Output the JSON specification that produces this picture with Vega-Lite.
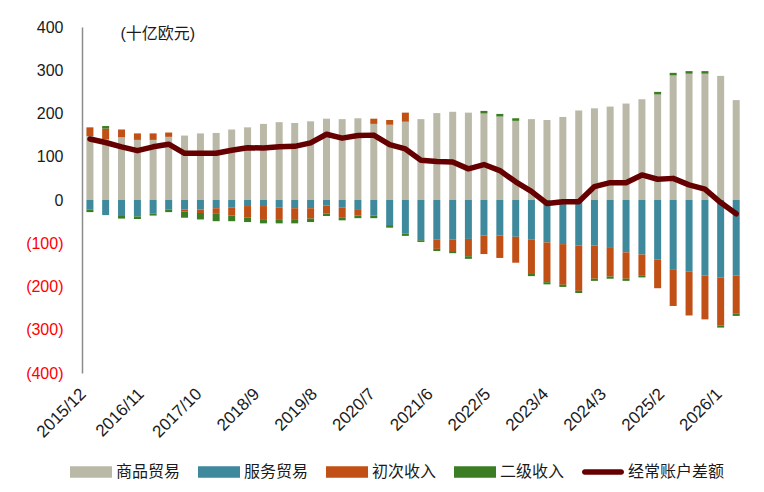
{
  "$schema": "https://vega.github.io/schema/vega-lite/v6.json",
  "width": 668,
  "height": 346,
  "autosize": {"type": "none"},
  "padding": {"left": 82, "top": 27, "right": 14, "bottom": 119},
  "background": "white",
  "data": {
    "values": [
      {"d": "2015/12/01", "商品贸易": 148, "服务贸易": -22, "初次收入": 20, "二级收入": -6, "经常账户差额": 141},
      {"d": "2016/03/01", "商品贸易": 140, "服务贸易": -35, "初次收入": 25, "二级收入": 6, "经常账户差额": 133},
      {"d": "2016/06/01", "商品贸易": 145, "服务贸易": -37, "初次收入": 18, "二级收入": -6, "经常账户差额": 123},
      {"d": "2016/09/01", "商品贸易": 139, "服务贸易": -38, "初次收入": 15, "二级收入": -6, "经常账户差额": 114},
      {"d": "2016/12/01", "商品贸易": 139, "服务贸易": -31, "初次收入": 15, "二级收入": -5, "经常账户差额": 123},
      {"d": "2017/03/01", "商品贸易": 146, "服务贸易": -22, "初次收入": 10, "二级收入": -6, "经常账户差额": 129},
      {"d": "2017/06/01", "商品贸易": 149, "服务贸易": -22, "初次收入": -5, "二级收入": -14, "经常账户差额": 108},
      {"d": "2017/09/01", "商品贸易": 154, "服务贸易": -22, "初次收入": -8, "二级收入": -15, "经常账户差额": 108},
      {"d": "2017/12/01", "商品贸易": 155, "服务贸易": -19, "初次收入": -13, "二级收入": -17, "经常账户差额": 108},
      {"d": "2018/03/01", "商品贸易": 163, "服务贸易": -17, "初次收入": -19, "二级收入": -13, "经常账户差额": 115},
      {"d": "2018/06/01", "商品贸易": 168, "服务贸易": -14, "初次收入": -27, "二级收入": -10, "经常账户差额": 121},
      {"d": "2018/09/01", "商品贸易": 176, "服务贸易": -14, "初次收入": -32, "二级收入": -8, "经常账户差额": 120},
      {"d": "2018/12/01", "商品贸易": 180, "服务贸易": -17, "初次收入": -29, "二级收入": -8, "经常账户差额": 123},
      {"d": "2019/03/01", "商品贸易": 178, "服务贸易": -19, "初次收入": -27, "二级收入": -8, "经常账户差额": 124},
      {"d": "2019/06/01", "商品贸易": 182, "服务贸易": -19, "初次收入": -24, "二级收入": -8, "经常账户差额": 132},
      {"d": "2019/09/01", "商品贸易": 188, "服务贸易": -13, "初次收入": -18, "二级收入": -6, "经常账户差额": 152},
      {"d": "2019/12/01", "商品贸易": 187, "服务贸易": -17, "初次收入": -23, "二级收入": -7, "经常账户差额": 143},
      {"d": "2020/03/01", "商品贸易": 189, "服务贸易": -23, "初次收入": -13, "二级收入": -6, "经常账户差额": 149},
      {"d": "2020/06/01", "商品贸易": 176, "服务贸易": -36, "初次收入": 12, "二级收入": -6, "经常账户差额": 150},
      {"d": "2020/09/01", "商品贸易": 174, "服务贸易": -58, "初次收入": 11, "二级收入": -6, "经常账户差额": 128},
      {"d": "2020/12/01", "商品贸易": 181, "服务贸易": -78, "初次收入": 21, "二级收入": -5, "经常账户差额": 118},
      {"d": "2021/03/01", "商品贸易": 187, "服务贸易": -93, "初次收入": 0, "二级收入": -4, "经常账户差额": 92},
      {"d": "2021/06/01", "商品贸易": 201, "服务贸易": -91, "初次收入": -22, "二级收入": -5, "经常账户差额": 89},
      {"d": "2021/09/01", "商品贸易": 204, "服务贸易": -91, "初次收入": -27, "二级收入": -5, "经常账户差额": 88},
      {"d": "2021/12/01", "商品贸易": 202, "服务贸易": -90, "初次收入": -40, "二级收入": -6, "经常账户差额": 72},
      {"d": "2022/03/01", "商品贸易": 200, "服务贸易": -82, "初次收入": -43, "二级收入": 6, "经常账户差额": 82},
      {"d": "2022/06/01", "商品贸易": 193, "服务贸易": -82, "初次收入": -52, "二级收入": 6, "经常账户差额": 68},
      {"d": "2022/09/01", "商品贸易": 183, "服务贸易": -85, "初次收入": -60, "二级收入": 6, "经常账户差额": 42},
      {"d": "2022/12/01", "商品贸易": 187, "服务贸易": -91, "初次收入": -80, "二级收入": -5, "经常账户差额": 20},
      {"d": "2023/03/01", "商品贸易": 185, "服务贸易": -98, "初次收入": -92, "二级收入": -5, "经常账户差额": -8},
      {"d": "2023/06/01", "商品贸易": 192, "服务贸易": -102, "初次收入": -94, "二级收入": -5, "经常账户差额": -4},
      {"d": "2023/09/01", "商品贸易": 207, "服务贸易": -105, "初次收入": -105, "二级收入": -5, "经常账户差额": -4},
      {"d": "2023/12/01", "商品贸易": 212, "服务贸易": -105, "初次收入": -77, "二级收入": -5, "经常账户差额": 31},
      {"d": "2024/03/01", "商品贸易": 216, "服务贸易": -109, "初次收入": -68, "二级收入": -5, "经常账户差额": 40},
      {"d": "2024/06/01", "商品贸易": 223, "服务贸易": -121, "初次收入": -61, "二级收入": -5, "经常账户差额": 40},
      {"d": "2024/09/01", "商品贸易": 233, "服务贸易": -126, "初次收入": -48, "二级收入": -5, "经常账户差额": 58},
      {"d": "2024/12/01", "商品贸易": 244, "服务贸易": -138, "初次收入": -66, "二级收入": 6, "经常账户差额": 48},
      {"d": "2025/03/01", "商品贸易": 288, "服务贸易": -160, "初次收入": -85, "二级收入": 6, "经常账户差额": 50},
      {"d": "2025/06/01", "商品贸易": 292, "服务贸易": -165, "初次收入": -102, "二级收入": 6, "经常账户差额": 35},
      {"d": "2025/09/01", "商品贸易": 292, "服务贸易": -175, "初次收入": -101, "二级收入": 6, "经常账户差额": 25},
      {"d": "2025/12/01", "商品贸易": 287, "服务贸易": -179, "初次收入": -111, "二级收入": -5, "经常账户差额": -6},
      {"d": "2026/03/01", "商品贸易": 231, "服务贸易": -175, "初次收入": -88, "二级收入": -5, "经常账户差额": -32}
    ]
  },
  "encoding": {
    "x": {
      "field": "d",
      "type": "temporal",
      "scale": {
        "domain": [{"year": 2015, "month": 11, "date": 14}, {"year": 2026, "month": 4, "date": 21}]
      },
      "axis": {
        "title": null,
        "values": [
          {"year": 2015, "month": 12, "date": 1},
          {"year": 2016, "month": 11, "date": 1},
          {"year": 2017, "month": 10, "date": 1},
          {"year": 2018, "month": 9, "date": 1},
          {"year": 2019, "month": 8, "date": 1},
          {"year": 2020, "month": 7, "date": 1},
          {"year": 2021, "month": 6, "date": 1},
          {"year": 2022, "month": 5, "date": 1},
          {"year": 2023, "month": 4, "date": 1},
          {"year": 2024, "month": 3, "date": 1},
          {"year": 2025, "month": 2, "date": 1},
          {"year": 2026, "month": 1, "date": 1}
        ],
        "format": "%Y/%-m",
        "labelAngle": -45,
        "labelAlign": "right",
        "labelBaseline": "middle",
        "labelPadding": 18,
        "labelOffset": -7,
        "labelFontSize": 17,
        "labelColor": "#1a1a1a",
        "labelOverlap": false,
        "labelFlush": false,
        "domain": false,
        "ticks": false,
        "grid": false
      }
    }
  },
  "layer": [
    {
      "transform": [
        {"fold": ["商品贸易", "服务贸易", "初次收入", "二级收入"], "as": ["series", "value"]}
      ],
      "mark": {"type": "bar", "size": 7},
      "encoding": {
        "y": {
          "field": "value",
          "type": "quantitative",
          "stack": "zero",
          "scale": {"domain": [-400, 400], "nice": false},
          "axis": {
            "title": "(十亿欧元)",
            "titleAngle": 0,
            "titleAlign": "left",
            "titleBaseline": "middle",
            "titleX": 38,
            "titleY": 6,
            "titleFontSize": 16,
            "titleFontWeight": "normal",
            "titleColor": "#1a1a1a",
            "values": [-400, -300, -200, -100, 0, 100, 200, 300, 400],
            "labelExpr": "datum.value < 0 ? '(' + format(-datum.value, 'd') + ')' : format(datum.value, 'd')",
            "labelColor": {"condition": {"test": "datum.value < 0", "value": "#ff0000"}, "value": "#1a1a1a"},
            "labelFontSize": 16,
            "labelPadding": 19,
            "ticks": false,
            "grid": false,
            "domainColor": "#8c8c8c",
            "domainWidth": 1.5
          }
        },
        "color": {
          "field": "series",
          "type": "nominal",
          "sort": ["商品贸易", "服务贸易", "初次收入", "二级收入"],
          "scale": {
            "domain": ["商品贸易", "服务贸易", "初次收入", "二级收入", "经常账户差额"],
            "range": ["#bab9a8", "#3e899c", "#c05015", "#3b7d23", "#660000"]
          },
          "legend": {
            "title": null,
            "orient": "none",
            "direction": "horizontal",
            "legendX": -12,
            "legendY": 424,
            "padding": 0,
            "labelFontSize": 16,
            "labelColor": "#1a1a1a",
            "labelOffset": 4,
            "columnPadding": 17,
            "symbolSize": 1764,
            "symbolStrokeWidth": 0,
            "symbolOpacity": 1,
            "symbolType": "M-1,-0.27H1V0.27H-1Z",
            "encode": {
              "symbols": {
                "update": {
                  "shape": {"signal": "datum.value === '经常账户差额' ? 'M-0.87,-0.13H0.87A0.13,0.13 0 0 1 0.87,0.13H-0.87A0.13,0.13 0 0 1 -0.87,-0.13Z' : 'M-1,-0.27H1V0.27H-1Z'"},
                  "fill": {"scale": "color", "field": "value"},
                  "strokeWidth": {"value": 0}
                }
              }
            }
          }
        }
      }
    },
    {
      "mark": {"type": "rule", "color": "#8c8c8c", "strokeWidth": 2},
      "encoding": {"y": {"datum": 0}}
    },
    {
      "mark": {"type": "line", "strokeWidth": 5.5, "strokeJoin": "round", "strokeCap": "round"},
      "encoding": {
        "y": {"field": "经常账户差额", "type": "quantitative"},
        "color": {"datum": "经常账户差额"}
      }
    }
  ],
  "config": {
    "font": "Liberation Sans, Noto Sans CJK SC",
    "view": {"stroke": null}
  }
}
